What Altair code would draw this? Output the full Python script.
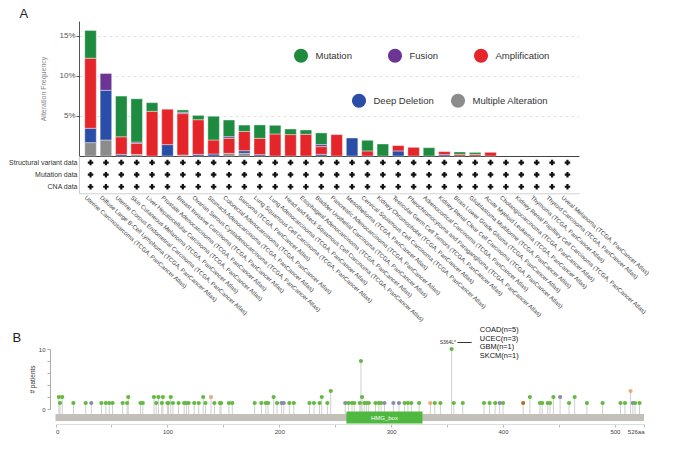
import altair as alt
import pandas as pd

# ---------------- Panel A data ----------------
cancers = [
    "Uterine Carcinosarcoma", "Diffuse Large B-Cell Lymphoma", "Uterine Corpus Endometrial Carcinoma",
    "Skin Cutaneous Melanoma", "Liver Hepatocellular Carcinoma", "Prostate Adenocarcinoma",
    "Breast Invasive Carcinoma", "Ovarian Serous Cystadenocarcinoma", "Stomach Adenocarcinoma",
    "Colorectal Adenocarcinoma", "Sarcoma", "Lung Squamous Cell Carcinoma", "Lung Adenocarcinoma",
    "Head and Neck Squamous Cell Carcinoma", "Esophageal Adenocarcinoma", "Bladder Urothelial Carcinoma",
    "Pancreatic Adenocarcinoma", "Mesothelioma", "Cervical Squamous Cell Carcinoma", "Kidney Chromophobe",
    "Testicular Germ Cell Tumors", "Pheochromocytoma and Paraganglioma", "Adrenocortical Carcinoma",
    "Kidney Renal Clear Cell Carcinoma", "Brain Lower Grade Glioma", "Glioblastoma Multiforme",
    "Acute Myeloid Leukemia", "Cholangiocarcinoma", "Kidney Renal Papillary Cell Carcinoma", "Thymoma",
    "Thyroid Carcinoma", "Uveal Melanoma",
]
study_suffix = " (TCGA, PanCancer Atlas)"

# alteration frequency in percent, per cancer type
mutation = [3.46, 0, 5.08, 5.4, 1.08, 0, 0.29, 0.54, 2.96, 2.08, 0.8, 1.67, 1.08, 0.7, 0.54, 1.46,
            0, 0, 1.33, 1.5, 0, 0, 1.04, 0, 0.3, 0.25, 0, 0, 0, 0, 0, 0]
fusion = [0, 2.1, 0, 0.17, 0, 0, 0.17, 0, 0, 0.2, 0, 0, 0, 0, 0, 0.25,
          0, 0, 0, 0, 0, 0, 0, 0, 0, 0, 0, 0, 0, 0, 0, 0]
amplification = [8.75, 0, 2.2, 1.37, 5.58, 4.42, 5.17, 4.33, 1.75, 1.88, 2.4, 2.04, 2.75, 2.67, 2.71, 0.96,
                 2.67, 0, 0.63, 0, 0.67, 1.08, 0, 0.38, 0.2, 0.2, 0.46, 0, 0, 0, 0, 0]
deep_deletion = [1.79, 6.2, 0.2, 0, 0, 1.42, 0, 0.2, 0.25, 0, 0.33, 0.17, 0, 0, 0, 0.21,
                 0, 2.25, 0, 0, 0.63, 0, 0, 0.17, 0, 0, 0, 0, 0, 0, 0, 0]
multiple_alteration = [1.67, 2.0, 0, 0.2, 0, 0, 0.12, 0, 0, 0.33, 0.33, 0, 0, 0, 0, 0,
                       0, 0, 0, 0, 0, 0, 0, 0, 0, 0, 0, 0, 0, 0, 0, 0]

alteration_types = ["Mutation", "Fusion", "Amplification", "Deep Deletion", "Multiple Alteration"]
alteration_colors = ["#1f8b41", "#6c3493", "#e4262b", "#2a4ea8", "#8c8c8c"]
stack_order = ["Multiple Alteration", "Deep Deletion", "Amplification", "Fusion", "Mutation"]
data_types = ["Structural variant data", "Mutation data", "CNA data"]

series = {
    "Mutation": mutation, "Fusion": fusion, "Amplification": amplification,
    "Deep Deletion": deep_deletion, "Multiple Alteration": multiple_alteration,
}
full_names = [c + study_suffix for c in cancers]
rows = []
for i, name in enumerate(full_names):
    for t in stack_order:
        v = series[t][i]
        if v > 0:
            rows.append({"cancer": name, "type": t, "value": v / 100.0, "layer": stack_order.index(t)})
bar_df = pd.DataFrame(rows)
dot_df = pd.DataFrame([{"cancer": n, "dtype": d} for n in full_names for d in data_types])

# ---------------- Panel B data ----------------
protein_length = 526
domain_names = ["HMG_box"]
domain_start = [260]
domain_end = [328]

mut_pos = [3, 4, 6, 16, 27, 32, 41, 45, 48, 51, 60, 64, 65, 76, 78, 88, 90, 92, 95, 96, 100, 101, 103, 105,
           110, 115, 117, 119, 124, 128, 132, 134, 139, 142, 147, 148, 155, 158, 178, 184, 188, 190, 195,
           198, 202, 204, 209, 213, 227, 231, 236, 238, 243, 246, 259, 262, 265, 267, 272, 273, 274, 276,
           278, 280, 286, 289, 291, 294, 302, 307, 312, 315, 318, 325, 335, 339, 344, 354, 356, 364, 383,
           388, 393, 397, 400, 418, 424, 433, 435, 440, 442, 445, 451, 459, 464, 475, 489, 505, 509, 514,
           516, 518, 522]
mut_count = [2, 1, 2, 1, 1, 1, 1, 1, 1, 1, 1, 1, 2, 1, 1, 2, 1, 2, 1, 2, 1, 1, 2, 1,
             1, 1, 1, 1, 1, 1, 2, 1, 2, 1, 1, 1, 1, 1, 1, 1, 1, 1, 2,
             1, 1, 1, 1, 1, 1, 1, 1, 2, 1, 3, 1, 1, 1, 1, 1, 8, 2, 1,
             1, 1, 1, 1, 1, 1, 1, 1, 1, 1, 1, 1, 1, 1, 1, 10, 1, 1, 1,
             1, 1, 1, 1, 1, 2, 1, 1, 1, 1, 2, 2, 1, 2, 1, 1, 1, 1, 3,
             1, 1, 1]
mut_class = ["M", "M", "M", "M", "M", "T", "M", "M", "M", "M", "M", "M", "M", "M", "M", "M", "M", "M", "M", "M", "M", "M", "M", "M",
             "M", "M", "M", "M", "M", "M", "M", "M", "S", "M", "M", "M", "M", "M", "M", "M", "M", "M", "M",
             "M", "T", "T", "M", "M", "M", "M", "M", "M", "M", "M", "T", "M", "M", "M", "M", "M", "M", "M",
             "M", "M", "M", "M", "M", "T", "T", "T", "M", "M", "M", "M", "S", "M", "M", "M", "M", "M", "M",
             "M", "M", "T", "M", "I", "M", "M", "M", "M", "M", "M", "T", "M", "M", "M", "M", "M", "M", "S",
             "T", "M", "M"]
class_names = ["M", "T", "S", "I"]
class_colors = ["#63ba3f", "#878ea6", "#e9ac74", "#b66f2b"]

hotspot_pos = [354]
hotspot_count = [10]
hotspot_label = ["S364L*"]
hotspot_lines = ["COAD(n=5)", "UCEC(n=3)", "GBM(n=1)", "SKCM(n=1)"]

lol_df = pd.DataFrame({"pos": mut_pos, "count": mut_count, "cls": mut_class})
dom_df = pd.DataFrame({"name": domain_names, "start": domain_start, "end": domain_end})
bb_df = pd.DataFrame({"start": [0], "end": [protein_length]})
hot_df = pd.DataFrame({"pos": hotspot_pos, "count": hotspot_count, "label": hotspot_label})

FONT = "Liberation Sans"
W = 500
H = 135
HB = 60

# ---------------- Panel A ----------------
x_band = alt.Scale(domain=full_names, paddingInner=0.25, paddingOuter=0.375)

bars = alt.Chart(bar_df).mark_bar(stroke="white", strokeWidth=0.4).encode(
    x=alt.X("cancer:N", scale=x_band,
            axis=alt.Axis(orient="bottom", title=None, labels=False, ticks=False, grid=False,
                          domainColor="#444", domainWidth=1)),
    y=alt.Y("value:Q", stack="zero", scale=alt.Scale(domain=[0, 0.1685], nice=False),
            axis=alt.Axis(orient="left", title="Alteration Frequency", values=[0.05, 0.10, 0.15],
                          format=".0%", labelFontSize=8, labelColor="#555", labelPadding=1,
                          tickSize=3, tickColor="#555", domainColor="#555",
                          grid=True, gridDash=[3, 3], gridColor="#e2e2e2",
                          titleFontSize=7, titleFontWeight="normal", titleColor="#888",
                          titlePadding=12)),
    color=alt.Color("type:N", scale=alt.Scale(domain=alteration_types, range=alteration_colors),
                    legend=alt.Legend(values=["Mutation", "Fusion", "Amplification"], orient="none",
                                      legendX=214.5, legendY=27, direction="horizontal", title=None,
                                      symbolType="circle", symbolSize=200, symbolStrokeWidth=0,
                                      labelFontSize=9.5, labelColor="#333", labelOffset=7,
                                      columnPadding=35, padding=0)),
    order=alt.Order("layer:Q", sort="ascending"),
)

legend2 = alt.Chart(bar_df).transform_filter(
    alt.FieldOneOfPredicate(field="type", oneOf=["Deep Deletion", "Multiple Alteration"])
).mark_point(filled=True, size=0).encode(
    fill=alt.Fill("type:N",
                  scale=alt.Scale(domain=["Deep Deletion", "Multiple Alteration"],
                                  range=[alteration_colors[3], alteration_colors[4]]),
                  legend=alt.Legend(orient="none", legendX=272.5, legendY=72, direction="horizontal",
                                    title=None, symbolType="circle", symbolSize=200,
                                    symbolStrokeWidth=0, symbolOpacity=1,
                                    labelFontSize=9.5, labelColor="#333", labelOffset=7,
                                    columnPadding=16, padding=0)),
)

dots = alt.Chart(dot_df).mark_point(shape="cross", filled=True, size=30, color="#111", opacity=1).encode(
    x=alt.X("cancer:N", scale=x_band,
            axis=alt.Axis(orient="bottom", offset=37.3, title=None, ticks=False, grid=False,
                          domainColor="#d0d0d0", labelAngle=42, labelAlign="left",
                          labelBaseline="middle", labelFontSize=6.0, labelColor="#444",
                          labelLimit=0, labelPadding=3, labelOffset=-5)),
    y=alt.Y("dtype:N",
            scale=alt.Scale(type="band", domain=data_types, range=[135, 172.3],
                            paddingInner=0, paddingOuter=0.04),
            axis=alt.Axis(orient="left", title=None, ticks=False, grid=False,
                          domainColor="#d0d0d0", labelFontSize=7, labelColor="#333",
                          labelPadding=2)),
)

label_a = alt.Chart(alt.Data(values=[{"panel": "A"}])).mark_text(
    fontSize=13, align="left", baseline="top", color="#222"
).encode(text="panel:N", x=alt.value(-59.5), y=alt.value(-13))

upper = alt.layer(bars, legend2, dots, label_a).resolve_scale(
    y="independent"
).resolve_axis(x="independent", y="independent").properties(width=W, height=H)

# ---------------- Panel B ----------------
lx = alt.Scale(domain=[0, protein_length], range=[-23.5, 565])
ly = alt.Scale(domain=[0, 10], nice=False)
x_axis = alt.Axis(orient="bottom", offset=15, title=None, grid=False,
                  values=[0, 50, 100, 150, 200, 250, 300, 350, 400, 450, 500, 526],
                  labelExpr="datum.value == 526 ? '526aa' : (datum.value % 100 == 0 ? datum.label : '')",
                  labelFontSize=6, labelColor="#444", tickSize=3, tickColor="#bbb",
                  domainColor="#ddd", labelPadding=1)
y_axis = alt.Axis(orient="left", offset=29, title="# patients", grid=False,
                  values=[0, 2, 4, 6, 8, 10],
                  labelExpr="(datum.value == 0 || datum.value == 10) ? datum.label : ''",
                  labelFontSize=6, labelColor="#444", tickSize=3, tickColor="#aaa",
                  domainColor="#aaa", titleFontSize=6.5, titleFontWeight="normal",
                  titleColor="#333", titlePadding=3)

backbone = alt.Chart(bb_df).mark_rect(color="#c2c0b8").encode(
    x=alt.X("start:Q", scale=lx, axis=x_axis), x2="end:Q",
    y=alt.value(HB + 5), y2=alt.value(HB + 12))

stems = alt.Chart(lol_df).mark_rule(color="#cfcfcf", strokeWidth=1).encode(
    x=alt.X("pos:Q", scale=lx, axis=x_axis),
    y=alt.Y("count:Q", scale=ly, axis=y_axis), y2=alt.value(HB + 5))

domains = alt.Chart(dom_df).mark_rect(color="#4fb83f").encode(
    x=alt.X("start:Q", scale=lx, axis=x_axis), x2="end:Q",
    y=alt.value(HB + 2.5), y2=alt.value(HB + 14.5))

domain_text = alt.Chart(dom_df).transform_calculate(mid="(datum.start + datum.end) / 2").mark_text(
    color="white", fontSize=6, baseline="middle"
).encode(x=alt.X("mid:Q", scale=lx, axis=x_axis), y=alt.value(HB + 8.5), text="name:N")

points = alt.Chart(lol_df).mark_circle(size=18, opacity=1).encode(
    x=alt.X("pos:Q", scale=lx, axis=x_axis),
    y=alt.Y("count:Q", scale=ly, axis=y_axis),
    color=alt.Color("cls:N", scale=alt.Scale(domain=class_names, range=class_colors), legend=None))

hot_label = alt.Chart(hot_df).mark_text(align="right", baseline="middle", dx=4.5, dy=-7,
                                        fontSize=5, color="#333").encode(
    x=alt.X("pos:Q", scale=lx, axis=x_axis), y=alt.Y("count:Q", scale=ly, axis=y_axis), text="label:N")

hot_leader = alt.Chart(hot_df).mark_text(align="left", baseline="middle", dx=6, dy=-7,
                                         fontSize=14, color="#333").encode(
    x=alt.X("pos:Q", scale=lx, axis=x_axis), y=alt.Y("count:Q", scale=ly, axis=y_axis),
    text=alt.value("\u2014"))

hot_lines = alt.Chart(hot_df).mark_text(align="left", baseline="top", dx=28.3, dy=-23,
                                        fontSize=7.4, lineHeight=8.7, color="#111").encode(
    x=alt.X("pos:Q", scale=lx, axis=x_axis), y=alt.Y("count:Q", scale=ly, axis=y_axis),
    text=alt.value(hotspot_lines))

label_b = alt.Chart(alt.Data(values=[{"panel": "B"}])).mark_text(
    fontSize=13, align="left", baseline="middle", color="#222"
).encode(text="panel:N", x=alt.value(-66.5), y=alt.value(-11))

lower = alt.layer(backbone, stems, domains, domain_text, points,
                  hot_label, hot_leader, hot_lines, label_b).properties(width=W, height=HB)

chart = alt.vconcat(upper, lower, spacing=3).resolve_scale(color="independent").properties(
    padding={"left": 0, "top": 0, "right": 0, "bottom": 0}
).configure(font=FONT).configure_view(strokeWidth=0)

chart.save("out.html", embed_options={"renderer": "svg", "actions": False})
